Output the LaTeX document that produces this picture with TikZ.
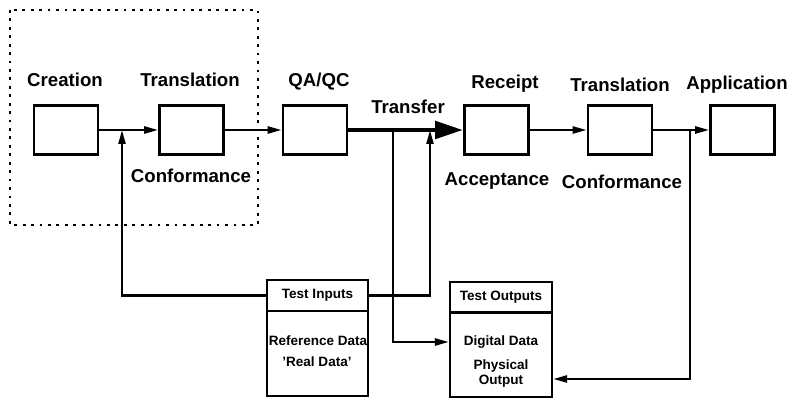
\documentclass[tikz,border=0pt]{standalone}
\usepackage{fontspec}
\setmainfont{Liberation Sans}
\usetikzlibrary{arrows.meta}

\begin{document}
\begin{tikzpicture}[
    x=0.02cm, y=-0.02cm,
    stage/.style={draw, line width=1.5pt, minimum width=1.28cm, minimum height=0.98cm, inner sep=0pt},
    tag/.style={font=\fontsize{10.6}{12}\selectfont\bfseries, inner sep=0pt},
    small/.style={font=\fontsize{7.7}{9}\selectfont\bfseries, inner sep=0pt},
    testhead/.style={draw, line width=1.3pt, minimum width=2.02cm, minimum height=0.62cm, inner sep=0pt, font=\fontsize{7.7}{9}\selectfont\bfseries},
    testbody/.style={draw, line width=1.3pt, minimum width=2.02cm, minimum height=1.7cm, inner sep=0pt},
    flow/.style={line width=1.35pt, -{Triangle[length=0.28cm, width=0.14cm]}},
    bigflow/.style={line width=2.8pt, -{Triangle[length=0.56cm, width=0.34cm]}},
    frame/.style={line width=1.4pt, dash pattern=on 1.6pt off 3.2pt}
]
\useasboundingbox (0,0) rectangle (797,398);

% dotted frame round creation and translation
\draw[frame] (10,10) rectangle (258,225);

% stages
\node[stage] (creation) at (66,130) {};
\node[stage] (trans1) at (191.5,130) {};
\node[stage] (qaqc) at (315,130) {};
\node[stage] (receipt) at (496.5,130) {};
\node[stage] (trans2) at (620,130) {};
\node[stage] (appl) at (742.5,130) {};

\node[tag] (lcreation) at (65,80) {Creation};
\node[tag] (ltrans1) at (190,80) {Translation};
\node[tag] (lconf1) at (191,176) {Conformance};
\node[tag] (lqaqc) at (319,82) {QA/QC};
\node[tag] (ltransfer) at (408,107) {Transfer};
\node[tag] (lreceipt) at (505,84) {Receipt};
\node[tag] (laccept) at (497,181) {Acceptance};
\node[tag] (ltrans2) at (620,85) {Translation};
\node[tag] (lconf2) at (622,182) {Conformance};
\node[tag] (lappl) at (737,85) {Application};

% test boxes
\node[testhead] (inhead) at (317.5,295.5) {Test Inputs};
\node[testbody] (inbody) at (317.5,353.5) {};
\node[small] (refdata) at (318,341) {Reference Data};
\node[small] (realdata) at (317,362) {'Real Data'};

\node[testhead, minimum width=2.04cm, minimum height=0.6cm] (outhead) at (501,297) {Test Outputs};
\node[testbody, minimum width=2.04cm, minimum height=1.68cm] (outbody) at (501,355) {};
\node[small] (dig) at (501,342) {Digital Data};
\node[small] (phys) at (501,366) {Physical};
\node[small] (outp) at (501,381) {Output};

% junctions
\coordinate (j1) at (122,130);
\coordinate (j2) at (393,130);
\coordinate (j3) at (430,130);
\coordinate (j4) at (690,130);
\coordinate (j5) at (690,379);

% main flow
\draw[flow] (creation) -- (trans1);
\draw[flow] (trans1) -- (qaqc);
\draw[bigflow] (qaqc) -- (receipt);
\draw[flow] (receipt) -- (trans2);
\draw[flow] (trans2) -- (appl);

% test data paths
\draw[flow] (inhead.west) -| (j1);
\draw[flow] (inhead.east) -| (j3);
\draw[flow] (j2) |- (outbody.west |- dig);
\draw[flow] (j4) -- (j5) -- (outbody.east |- j5);

\end{tikzpicture}
\end{document}
